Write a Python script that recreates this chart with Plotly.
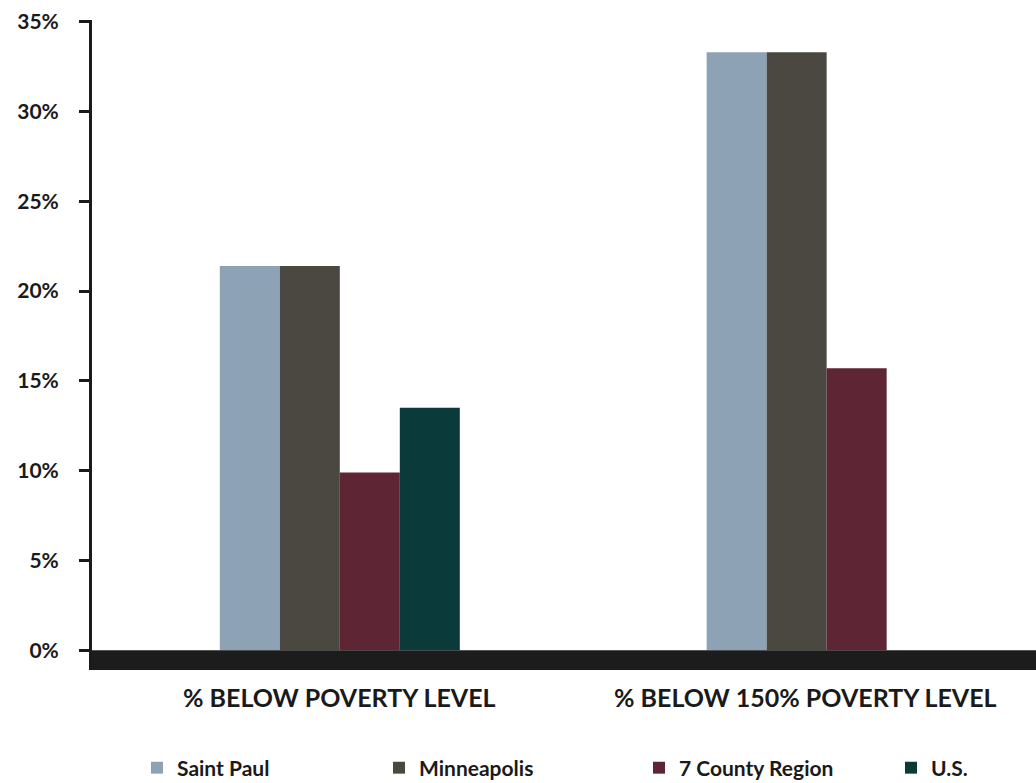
import plotly.graph_objects as go

categories = ["% BELOW POVERTY LEVEL", "% BELOW 150% POVERTY LEVEL"]
cat_pos = [0, 1]
series_names = ["Saint Paul", "Minneapolis", "7 County Region", "U.S."]
saint_paul = [21.4, 33.3]
minneapolis = [21.4, 33.3]
county7 = [9.9, 15.7]
us = [13.5, None]
colors = ["#8DA2B5", "#4B4741", "#5E2535", "#0B3A3A"]
y_ticks = [0, 5, 10, 15, 20, 25, 30, 35]
y_ticktext = ["0%", "5%", "10%", "15%", "20%", "25%", "30%", "35%"]

FONT = "Lato, Roboto, sans-serif"
legend_x_px = [137, 379, 639, 891]

fig = go.Figure()
legend_ids = ["legend", "legend2", "legend3", "legend4"]
for name, vals, col, lid in zip(series_names, [saint_paul, minneapolis, county7, us], colors, legend_ids):
    fig.add_trace(go.Bar(x=cat_pos, y=vals, name=name, marker_color=col,
                         marker_line_width=0, legend=lid))

legend_common = dict(orientation="h", xref="container", yref="container",
                     xanchor="left", y=1 - 768 / 783, yanchor="middle", bgcolor="rgba(0,0,0,0)",
                     font=dict(family=FONT, size=21, color="#1a1a1a", weight=700))
layout_legends = {}
for lid, px in zip(legend_ids, legend_x_px):
    layout_legends[lid] = dict(legend_common, x=px / 1036)

fig.update_layout(
    width=1036, height=783,
    paper_bgcolor="white", plot_bgcolor="white",
    margin=dict(l=92, r=0, t=20, b=113, autoexpand=False),
    barmode="group", bargap=0.507, bargroupgap=0,
    font=dict(family=FONT, color="#1a1a1a", size=20),
    showlegend=True,
    **layout_legends,
)
fig.update_xaxes(range=[-0.509, 1.43], showticklabels=False, showgrid=False,
                 zeroline=False, showline=False, ticks="", automargin=False)
fig.update_yaxes(range=[-1.1, 35.1], tickvals=y_ticks, ticktext=y_ticktext,
                 showgrid=False, zeroline=False, showline=True, linecolor="#1a1a1a",
                 linewidth=3, ticks="outside", ticklen=10, tickwidth=3, automargin=False,
                 ticklabelstandoff=16,
                 tickcolor="#1a1a1a", tickfont=dict(size=21, family=FONT, weight=700))

# thick base band below zero
fig.add_shape(type="rect", xref="paper", yref="y", x0=0, x1=1, y0=-1.1, y1=0,
              fillcolor="#1c1c1c", line_width=0, layer="above")

for c, p, xoff in zip(categories, cat_pos, [0, -21]):
    fig.add_annotation(x=p, y=-1.1, xref="x", yref="y", text=c, showarrow=False,
                       yanchor="top", yshift=-10, xshift=xoff,
                       font=dict(family=FONT, size=25, color="#1a1a1a", weight=700))

fig.write_html("out.html", config={"displayModeBar": False},
               post_script="document.body.style.margin='0';document.body.style.overflow='hidden';")
